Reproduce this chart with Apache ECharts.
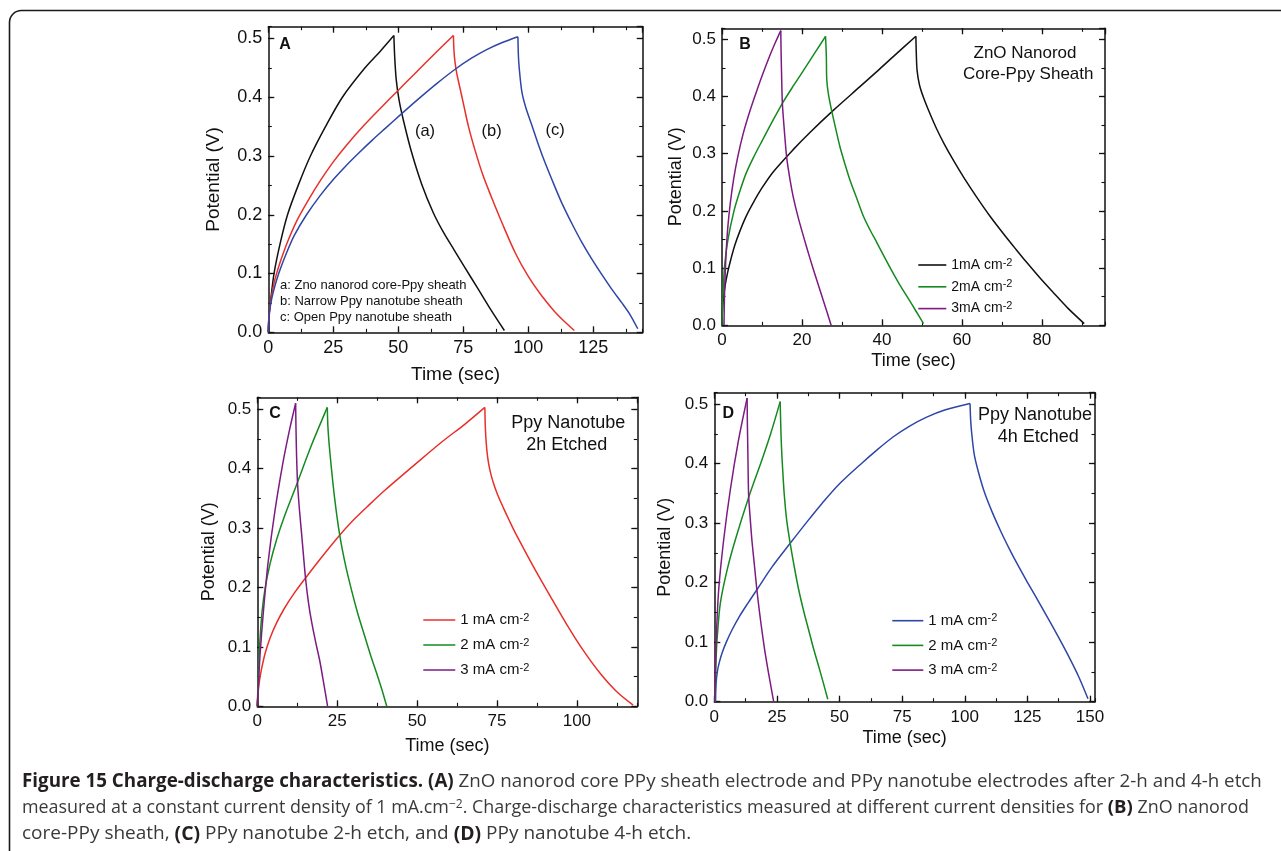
<!DOCTYPE html>
<html><head><meta charset="utf-8">
<script src="https://cdn.jsdelivr.net/npm/echarts@6/dist/echarts.min.js"></script>
<style>html,body{margin:0;padding:0;background:#fff}#c{width:1281px;height:851px}</style>
</head><body><div id="c"></div><script>
// ---------- DATA (time s, potential V): charge branch then discharge branch ----------
const A_zno = [[0,0],[0.3,0.03],[1,0.058],[2.2,0.1],[4.5,0.15],[7.4,0.2],[11.5,0.25],[16.2,0.3],[22,0.35],[28.5,0.4],[37.2,0.45],[43,0.478],[48.3,0.505],
  [48.6,0.47],[49.2,0.43],[50.3,0.395],[52,0.36],[55,0.308],[59,0.252],[63.5,0.203],[67.5,0.169],[71.5,0.14],[75.5,0.111],[80.8,0.073],[85.5,0.039],[90.8,0.003]];
const A_narrow = [[0,0],[0.3,0.03],[1,0.055],[2,0.08],[3.2,0.1],[5,0.125],[7.5,0.155],[11,0.19],[15,0.222],[20,0.258],[25,0.29],[30,0.318],[37,0.353],[44,0.385],[50,0.412],[57,0.443],[64,0.474],[71.2,0.505],
  [71.4,0.48],[71.8,0.46],[72.5,0.44],[73.5,0.42],[75,0.39],[77,0.35],[79.5,0.31],[82.5,0.268],[86,0.228],[90,0.185],[95,0.135],[100,0.095],[105,0.063],[110,0.036],[114,0.018],[117.7,0.003]];
const A_open = [[0,0],[0.2,0.02],[0.8,0.045],[2,0.07],[4,0.1],[7,0.135],[10,0.165],[14.7,0.2],[20,0.233],[25,0.26],[30,0.284],[35,0.306],[40,0.327],[45,0.347],[51.3,0.372],[58,0.398],[65,0.424],[72,0.448],[78,0.466],[84,0.481],[90,0.493],[96,0.503],
  [96.2,0.47],[96.5,0.45],[97.5,0.41],[99,0.383],[101.4,0.352],[104,0.318],[106.5,0.288],[110,0.25],[113,0.219],[117,0.183],[120.6,0.153],[124.5,0.124],[128.3,0.098],[132,0.074],[136,0.05],[139,0.031],[142.1,0.006]];

const B_1 = [[0,0],[0.15,0.03],[0.4,0.05],[0.8,0.07],[1.4,0.092],[2.2,0.115],[3.2,0.14],[4.5,0.165],[6,0.19],[7.8,0.214],[10,0.24],[12.8,0.268],[17.8,0.307],[22,0.337],[27.9,0.376],[34.5,0.417],[39,0.445],[42.9,0.47],[48.5,0.505],
  [48.6,0.475],[48.8,0.445],[49.4,0.42],[50.4,0.398],[52,0.37],[53.7,0.343],[55.5,0.318],[57.9,0.288],[60.5,0.258],[63.7,0.224],[67,0.191],[70.4,0.16],[73.5,0.133],[76.2,0.11],[79.5,0.083],[82.9,0.057],[86.5,0.03],[90.6,0.003]];
const B_2 = [[0,0],[0.1,0.03],[0.3,0.06],[0.6,0.1],[1.5,0.15],[3,0.2],[4.5,0.235],[6,0.265],[8,0.295],[10,0.322],[12.5,0.355],[15.1,0.388],[18,0.42],[21,0.452],[23.5,0.479],[25.9,0.505],
  [26.1,0.47],[26.2,0.43],[26.6,0.405],[27.4,0.376],[28.4,0.345],[29.5,0.312],[30.7,0.283],[32,0.254],[33.7,0.222],[35.4,0.19],[37,0.167],[38.7,0.145],[40.8,0.117],[42.9,0.09],[44.7,0.068],[46.5,0.048],[48.5,0.025],[50.4,0.003]];
const B_3 = [[0.5,0],[0.6,0.045],[0.8,0.09],[1.1,0.135],[1.5,0.175],[2.1,0.215],[2.9,0.255],[3.9,0.293],[5.3,0.335],[7,0.375],[8.7,0.41],[10.4,0.443],[12,0.472],[13.4,0.495],[14.7,0.515],
  [14.8,0.47],[14.9,0.44],[15.1,0.388],[15.6,0.34],[16.2,0.292],[17,0.255],[17.8,0.225],[19,0.19],[20.4,0.155],[22,0.117],[23.7,0.079],[25.5,0.04],[27.3,0.0]];

const C_1 = [[0,0],[0.2,0.02],[0.6,0.04],[1.3,0.062],[2.5,0.09],[4,0.115],[6,0.14],[8.5,0.165],[11.5,0.19],[15.1,0.216],[20,0.25],[25.3,0.285],[30,0.313],[35,0.339],[40,0.364],[50,0.41],[58,0.446],[65,0.475],[71.2,0.503],
  [71.35,0.47],[71.6,0.445],[72.1,0.418],[72.8,0.397],[73.8,0.377],[75.2,0.356],[77,0.334],[79,0.311],[81.1,0.288],[86.3,0.236],[91.6,0.186],[96.8,0.138],[102,0.094],[107.2,0.056],[112.4,0.025],[117.6,0.002]];
const C_2 = [[0,0],[0.3,0.05],[0.7,0.1],[1.5,0.16],[2.5,0.2],[4,0.24],[6,0.28],[8.5,0.32],[12.3,0.373],[17,0.44],[21.9,0.503],
  [22.1,0.47],[22.5,0.44],[23.2,0.4],[24.2,0.35],[25.7,0.291],[27.5,0.24],[29.5,0.195],[31.5,0.155],[33.5,0.12],[35.5,0.085],[37.5,0.053],[39,0.028],[40.5,0.0]];
const C_3 = [[0,0],[0.4,0.04],[0.85,0.086],[1.9,0.159],[3.4,0.243],[5.5,0.328],[8.1,0.412],[10.2,0.468],[12,0.51],
  [12.1,0.47],[12.3,0.42],[12.6,0.375],[13.2,0.33],[13.9,0.288],[15.1,0.215],[16,0.175],[17,0.142],[18.3,0.107],[19.6,0.075],[20.8,0.038],[22,0.0]];

const D_1 = [[0.5,0],[0.7,0.03],[1.2,0.05],[2,0.066],[3.2,0.083],[4.8,0.1],[7,0.12],[10,0.143],[13.5,0.166],[17,0.188],[23,0.226],[30.3,0.266],[37,0.302],[43,0.333],[50,0.366],[59,0.401],[65,0.423],[71.5,0.445],[78,0.463],[84.8,0.478],[92,0.49],[102.1,0.501],
  [102.4,0.47],[102.8,0.45],[103.8,0.415],[105.5,0.385],[108,0.35],[111,0.318],[114.5,0.285],[118,0.255],[121,0.231],[124.7,0.203],[128,0.179],[131.5,0.153],[135,0.127],[138.5,0.1],[142,0.072],[145.5,0.042],[149.2,0.005]];
const D_2 = [[0.3,0],[0.5,0.04],[0.7,0.07],[1.1,0.104],[2.4,0.165],[5.1,0.221],[8.4,0.272],[13.7,0.343],[19,0.406],[22.5,0.45],[26.3,0.504],
  [26.5,0.47],[26.8,0.43],[27.3,0.39],[27.9,0.35],[28.9,0.305],[30.3,0.266],[32,0.225],[33.7,0.188],[35.7,0.152],[37.7,0.12],[39.7,0.088],[41.7,0.059],[43.5,0.032],[45.3,0.004]];
const D_3 = [[0.2,0],[0.5,0.06],[0.7,0.098],[1.75,0.188],[3.75,0.272],[6.4,0.356],[9.7,0.44],[13.1,0.51],
  [13.2,0.47],[13.4,0.42],[13.7,0.347],[14.3,0.31],[15,0.272],[16,0.23],[17,0.188],[18,0.152],[19,0.12],[20,0.09],[21,0.064],[22.3,0.033],[23.7,0.0]];

const legendB = ['1mA cm','2mA cm','3mA cm'];
const legendCD = ['1 mA cm','2 mA cm','3 mA cm'];
const notesA = ['a: Zno nanorod core-Ppy sheath','b: Narrow Ppy nanotube sheath','c: Open Ppy nanotube sheath'];
const xMax = [144, 95.8, 118.9, 152];
const yMax = [0.52, 0.519, 0.52, 0.519];
const xMajor = [25, 20, 25, 25];

// ---------- LAYOUT ----------
const FF = '"Liberation Sans", Arial, sans-serif';
const INK = '#111';
const COL = {k:'#111111', r:'#e8302a', b:'#2e46a6', g:'#158a1f', p:'#7d1b82'};
const grids = [
  {left:268.3, top:26.7, width:374.4, height:305.6},
  {left:722, top:28.3, width:383, height:297},
  {left:257.3, top:397.3, width:380, height:309},
  {left:714.3, top:392.7, width:380.7, height:309}
];
const tickFS = [18,17,17,17], nameFS = [19,18,18,18];
const xNameGap = [33,27,31,27], yNameGap = [45,37,39,40];

const xAxes = [], yAxes = [];
function near(v, step){ const r = Math.round(v/step)*step; return Math.abs(r - v) < 1e-6; }
grids.forEach((g,i)=>{
  const lineS = {show:true, onZero:false, lineStyle:{color:INK, width:1.5}};
  const noLine = {show:false, onZero:false};
  const majT = {show:true, inside:true, length:6, lineStyle:{color:INK, width:1.3}};
  const minT = {show:true, inside:true, length:3.5, lineStyle:{color:INK, width:1.1}};
  const base = {type:'value', gridIndex:i, splitLine:{show:false}, min:0};
  xAxes.push(Object.assign({}, base, {position:'bottom', max:xMax[i], interval:xMajor[i], axisLine:lineS, axisTick:majT,
    axisLabel:{show:true, margin:7, fontSize:tickFS[i], color:INK, fontFamily:FF, showMaxLabel:false,
      formatter:v=> near(v, xMajor[i]) ? String(Math.round(v)) : ''},
    name:'Time (sec)', nameLocation:'middle', nameGap:xNameGap[i], nameTextStyle:{fontSize:nameFS[i], color:INK, fontFamily:FF}}));
  xAxes.push(Object.assign({}, base, {position:'bottom', max:xMax[i], interval:xMajor[i]/2, axisLine:noLine, axisTick:minT, axisLabel:{show:false}}));
  xAxes.push(Object.assign({}, base, {position:'top', max:xMax[i], interval:xMajor[i], axisLine:lineS, axisTick:majT, axisLabel:{show:false}}));
  xAxes.push(Object.assign({}, base, {position:'top', max:xMax[i], interval:xMajor[i]/2, axisLine:noLine, axisTick:minT, axisLabel:{show:false}}));
  yAxes.push(Object.assign({}, base, {position:'left', max:yMax[i], interval:0.1, axisLine:lineS, axisTick:majT,
    axisLabel:{show:true, margin:6, fontSize:tickFS[i], color:INK, fontFamily:FF, showMaxLabel:false,
      formatter:v=> near(v, 0.1) ? v.toFixed(1) : ''},
    name:'Potential (V)', nameLocation:'middle', nameGap:yNameGap[i], nameTextStyle:{fontSize:nameFS[i], color:INK, fontFamily:FF}}));
  yAxes.push(Object.assign({}, base, {position:'left', max:yMax[i], interval:0.05, axisLine:noLine, axisTick:minT, axisLabel:{show:false}}));
  yAxes.push(Object.assign({}, base, {position:'right', max:yMax[i], interval:0.1, axisLine:lineS, axisTick:majT, axisLabel:{show:false}}));
  yAxes.push(Object.assign({}, base, {position:'right', max:yMax[i], interval:0.05, axisLine:noLine, axisTick:minT, axisLabel:{show:false}}));
});

const legendLabel = {};
const series = [];
function curve(name, data, color, panel, label){
  if (label) legendLabel[name] = label;
  let pk = 0;
  data.forEach((d,k)=>{ if (d[1] > data[pk][1]) pk = k; });
  [data.slice(0, pk+1), data.slice(pk)].forEach(part=>{
    series.push({type:'line', name, data:part, xAxisIndex:4*panel, yAxisIndex:4*panel, showSymbol:false, symbol:'none',
      smooth:0.3, color, itemStyle:{color}, lineStyle:{color, width:1.5, join:'round'}, z:3});
  });
}
curve('A:a', A_zno, COL.k, 0); curve('A:b', A_narrow, COL.r, 0); curve('A:c', A_open, COL.b, 0);
curve('B1', B_1, COL.k, 1, legendB[0]); curve('B2', B_2, COL.g, 1, legendB[1]); curve('B3', B_3, COL.p, 1, legendB[2]);
curve('C1', C_1, COL.r, 2, legendCD[0]); curve('C2', C_2, COL.g, 2, legendCD[1]); curve('C3', C_3, COL.p, 2, legendCD[2]);
curve('D1', D_1, COL.b, 3, legendCD[0]); curve('D2', D_2, COL.g, 3, legendCD[1]); curve('D3', D_3, COL.p, 3, legendCD[2]);

function mkLegend(names, left, top, w, fs, gap){
  return {data:names, left, top, orient:'vertical', icon:'rect', itemWidth:w, itemHeight:1.6, itemGap:gap, padding:0,
    selectedMode:false, inactiveColor:INK,
    textStyle:{color:INK, fontFamily:FF, fontSize:fs, rich:{
      t:{fontSize:fs, fontFamily:FF, color:INK, lineHeight:16},
      s:{fontSize:11, fontFamily:FF, color:INK, lineHeight:8, verticalAlign:'top'}}},
    formatter:n=>'{t|'+legendLabel[n]+'}{s|-2}'};
}
const legends = [
  mkLegend(['B1','B2','B3'], 918.3, 257, 28, 14, 6.8),
  mkLegend(['C1','C2','C3'], 423.3, 612, 32, 15, 9.5),
  mkLegend(['D1','D2','D3'], 892.3, 612.7, 31, 15, 9.2)
];

function txt(s, x, y, fs, opts){
  return {type:'text', z:50, style:{text:s, x, y, fill:INK, font:(opts&&opts.bold?'bold ':'')+fs+'px '+FF,
    textAlign:(opts&&opts.align)||'center', textVerticalAlign:'middle'}};
}
const CAPF = '"Open Sans", "Noto Sans", sans-serif';
function capRich(nf, bf){
  return {
    b:{fontWeight:'bold', fontSize:bf, fontFamily:CAPF, fill:'#231f20', color:'#231f20'},
    n:{fontSize:nf, fontFamily:CAPF, fill:'#3a3a3a', color:'#3a3a3a'},
    s:{fontSize:12, fontFamily:CAPF, fill:'#3a3a3a', color:'#3a3a3a', verticalAlign:'top', lineHeight:10}
  };
}
const caption = [
  '{b|Figure 15 Charge-discharge characteristics. (A)}{n| ZnO nanorod core PPy sheath electrode and PPy nanotube electrodes after 2-h and 4-h etch}',
  '{n|measured at a constant current density of 1 mA.cm}{s|\u22122}{n|. Charge-discharge characteristics measured at different current densities for }{b|(B)}{n| ZnO nanorod}',
  '{n|core-PPy sheath, }{b|(C)}{n| PPy nanotube 2-h etch, and }{b|(D)}{n| PPy nanotube 4-h etch.}'
];
const capY = [782, 808, 834];
const capFS = [[18.75,18.8],[17.9,18.5],[19.0,19.4]];

const graphics = [
  {type:'rect', z:40, shape:{x:9.5, y:10.5, width:1400, height:1000, r:12}, style:{fill:'rgba(0,0,0,0)', stroke:'#1a1a1a', lineWidth:1.6}},
  txt('A', 285, 45, 16, {bold:true}), txt('B', 745, 45, 16, {bold:true}),
  txt('C', 275, 413.3, 16, {bold:true}), txt('D', 728.3, 413.3, 16, {bold:true}),
  txt('(a)', 425, 131.7, 16.5), txt('(b)', 491.7, 131.7, 16.5), txt('(c)', 555, 130, 16.5),
  txt(notesA[0], 280, 285.7, 13, {align:'left'}), txt(notesA[1], 280, 301.7, 13, {align:'left'}), txt(notesA[2], 280, 317.7, 13, {align:'left'}),
  txt('ZnO Nanorod', 1025, 53.3, 17), txt('Core-Ppy Sheath', 1028.3, 74, 17),
  txt('Ppy Nanotube', 568.3, 423.3, 18), txt('2h Etched', 566.7, 445, 18),
  txt('Ppy Nanotube', 1035, 415, 18), txt('4h Etched', 1038.3, 436.7, 18)
];
caption.forEach((c,i)=>graphics.push({type:'text', z:50, style:{text:c, x:22, y:capY[i], rich:capRich(capFS[i][0], capFS[i][1]),
  font:'18px '+CAPF, fill:'#3a3a3a', textAlign:'left', textVerticalAlign:'middle'}}));

const chart = echarts.init(document.getElementById('c'), null, {renderer:'canvas'});
chart.setOption({
  animation:false, backgroundColor:'#fff',
  grid:grids, xAxis:xAxes, yAxis:yAxes, series, legend:legends, graphic:graphics
});
</script></body></html>
